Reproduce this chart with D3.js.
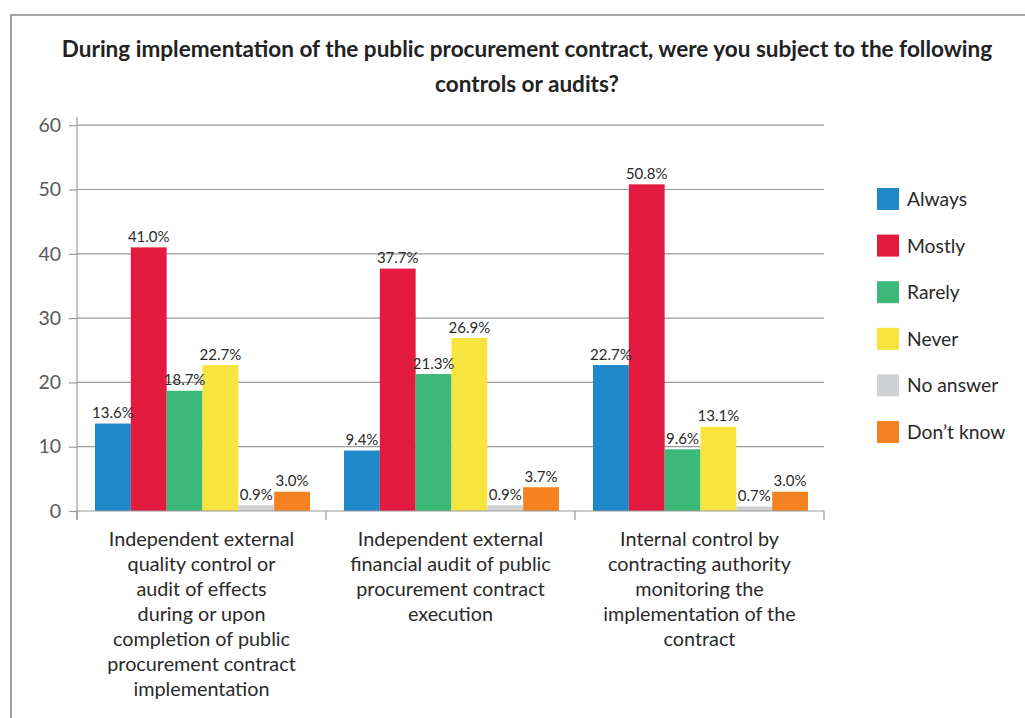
<!DOCTYPE html>
<html>
<head>
<meta charset="utf-8">
<script src="https://cdn.jsdelivr.net/npm/d3@7/dist/d3.min.js"></script>
<style>
  html, body { margin: 0; padding: 0; background: #fff; }
  svg { display: block; font-family: Lato, "Open Sans", sans-serif; }
</style>
</head>
<body>
<svg id="chart" width="1025" height="718"></svg>
<script>
// Survey results: share of respondents (%) per type of control and answer
const titleLines = [
  "During implementation of the public procurement contract, were you subject to the following",
  "controls or audits?"
];
const categories = [
  ["Independent external", "quality control or", "audit of effects", "during or upon", "completion of public", "procurement contract", "implementation"],
  ["Independent external", "financial audit of public", "procurement contract", "execution"],
  ["Internal control by", "contracting authority", "monitoring the", "implementation of the", "contract"]
];
const seriesNames = ["Always", "Mostly", "Rarely", "Never", "No answer", "Don\u2019t know"];
const seriesColors = ["#1f88c9", "#e31b40", "#3cb878", "#f7e43f", "#d0d1d3", "#f58220"];
const always   = [13.6,  9.4, 22.7];
const mostly   = [41.0, 37.7, 50.8];
const rarely   = [18.7, 21.3,  9.6];
const never    = [22.7, 26.9, 13.1];
const noAnswer = [ 0.9,  0.9,  0.7];
const dontKnow = [ 3.0,  3.7,  3.0];
const yTicks = [0, 10, 20, 30, 40, 50, 60];

const seriesValues = [always, mostly, rarely, never, noAnswer, dontKnow];

const svg = d3.select("#chart");

// outer frame (top and left edges)
svg.append("path")
  .attr("d", "M11,718 L11,15 L1025,15")
  .attr("fill", "none")
  .attr("stroke", "#8a8a8a")
  .attr("stroke-width", 1.6);

// title
const title = svg.append("g");
titleLines.forEach((t, i) => {
  title.append("text")
    .attr("x", 527)
    .attr("y", 57 + i * 35)
    .attr("text-anchor", "middle")
    .attr("font-weight", "bold")
    .attr("font-size", 20)
    .attr("fill", "#222")
    .text(t);
});
// fit the long title line to its width
{
  const first = title.select("text").node();
  const w = first.getComputedTextLength();
  const fs = 20 * 931 / w;
  title.selectAll("text").attr("font-size", fs);
}

const x0 = 77, x1 = 824, yBottom = 511, yTop = 125.2;

const x = d3.scaleBand()
  .domain(d3.range(categories.length))
  .range([x0, x1])
  .paddingInner(0)
  .paddingOuter(0);

const xInner = d3.scaleBand()
  .domain(d3.range(seriesNames.length))
  .range([18, x.bandwidth() - 16]);

const y = d3.scaleLinear().domain([0, 60]).range([yBottom, yTop]);

// gridlines
svg.append("g")
  .selectAll("line")
  .data(yTicks.filter(d => d > 0))
  .join("line")
  .attr("x1", x0).attr("x2", x1)
  .attr("y1", d => y(d)).attr("y2", d => y(d))
  .attr("stroke", "#9a9a9a")
  .attr("stroke-width", 1.2);

// y axis
const yAxis = svg.append("g")
  .attr("transform", `translate(${x0},0)`)
  .call(d3.axisLeft(y).tickValues(yTicks).tickSize(8).tickPadding(8).tickFormat(d3.format("d")));
yAxis.select(".domain").remove();
yAxis.selectAll(".tick line").attr("stroke", "#9a9a9a").attr("stroke-width", 1.2);
yAxis.selectAll(".tick text")
  .attr("fill", "#595959")
  .attr("font-size", 19.5)
  .attr("font-family", "Lato, 'Open Sans', sans-serif");
svg.append("line")
  .attr("x1", x0).attr("x2", x0)
  .attr("y1", 117).attr("y2", 520)
  .attr("stroke", "#9a9a9a").attr("stroke-width", 1.2);

// bars
const groups = svg.append("g")
  .selectAll("g")
  .data(categories.map((c, i) => i))
  .join("g")
  .attr("transform", i => `translate(${x(i)},0)`);

groups.each(function(ci) {
  const g = d3.select(this);
  const vals = seriesValues.map(s => s[ci]);
  g.selectAll("rect")
    .data(vals)
    .join("rect")
    .attr("x", (d, si) => xInner(si))
    .attr("width", xInner.bandwidth())
    .attr("y", d => y(d))
    .attr("height", d => y(0) - y(d))
    .attr("fill", (d, si) => seriesColors[si]);
  g.selectAll("text.val")
    .data(vals)
    .join("text")
    .attr("class", "val")
    .attr("x", (d, si) => xInner(si) + xInner.bandwidth() / 2)
    .attr("y", d => y(d) - 5.5)
    .attr("text-anchor", "middle")
    .attr("font-size", 15)
    .attr("fill", "#2a2a2a")
    .text(d => d.toFixed(1) + "%");
});

// x axis baseline and category separators
svg.append("line")
  .attr("x1", x0).attr("x2", x1)
  .attr("y1", yBottom).attr("y2", yBottom)
  .attr("stroke", "#9a9a9a").attr("stroke-width", 1.2);
svg.append("g")
  .selectAll("line")
  .data(d3.range(categories.length + 1))
  .join("line")
  .attr("x1", i => x0 + i * x.bandwidth())
  .attr("x2", i => x0 + i * x.bandwidth())
  .attr("y1", yBottom).attr("y2", 520)
  .attr("stroke", "#9a9a9a").attr("stroke-width", 1.2);

// category labels
categories.forEach((lines, ci) => {
  const t = svg.append("text")
    .attr("text-anchor", "middle")
    .attr("font-size", 19.8)
    .attr("fill", "#2a2a2a");
  lines.forEach((ln, li) => {
    t.append("tspan")
      .attr("x", x(ci) + x.bandwidth() / 2)
      .attr("y", 546 + li * 25)
      .text(ln);
  });
});

// legend
const legend = svg.append("g")
  .selectAll("g")
  .data(seriesNames)
  .join("g")
  .attr("transform", (d, i) => `translate(877,${188 + i * 46.6})`);
legend.append("rect")
  .attr("width", 22).attr("height", 22)
  .attr("fill", (d, i) => seriesColors[i]);
legend.append("text")
  .attr("x", 30).attr("y", 18)
  .attr("font-size", 19.3)
  .attr("fill", "#2a2a2a")
  .text(d => d);
</script>
</body>
</html>
